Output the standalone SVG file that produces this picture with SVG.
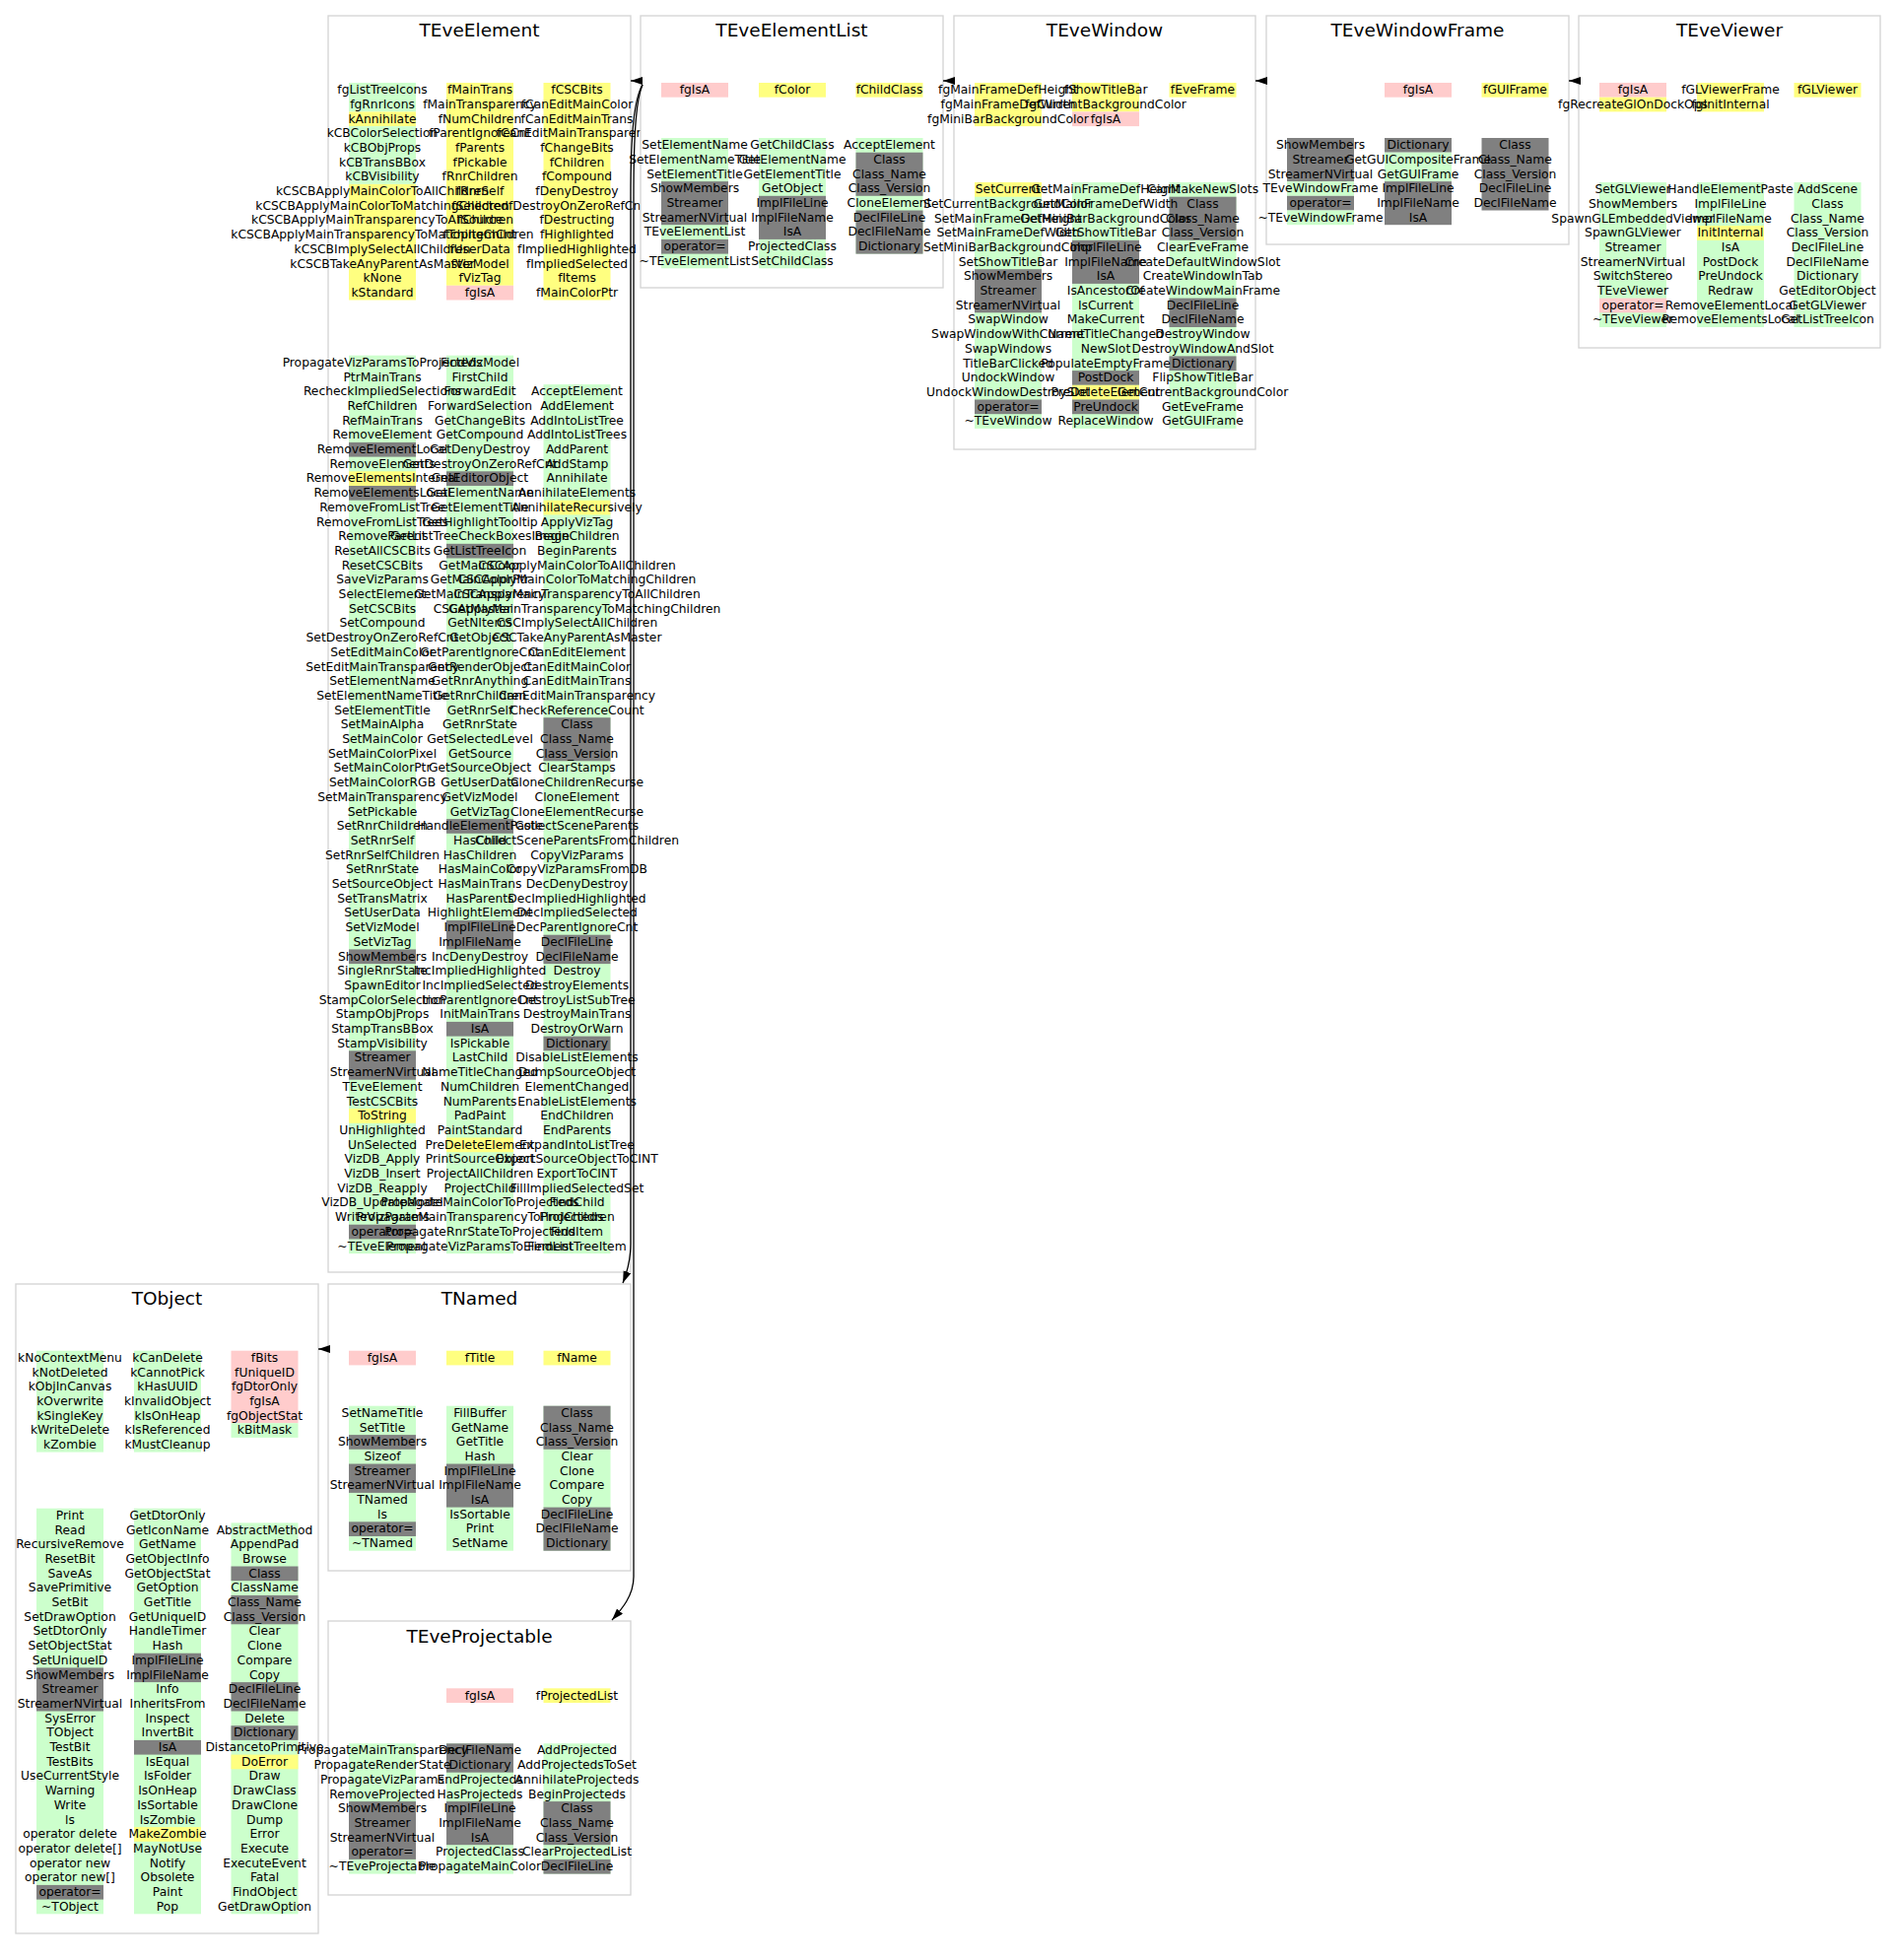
<svg xmlns="http://www.w3.org/2000/svg" width="1925" height="1989" viewBox="0 0 1925 1989">
<style>
.b{fill:#fff;stroke:#d3d3d3;stroke-width:1.3}
.t{font-family:"DejaVu Sans",sans-serif;font-size:18.5px;text-anchor:middle;fill:#000}
.m{font-family:"DejaVu Sans",sans-serif;font-size:12.3px;text-anchor:middle;fill:#000}
.g{fill:#ccffcc}.y{fill:#ffff80}.p{fill:#ffcccc}.d{fill:#808080}
.e{fill:none;stroke:#000;stroke-width:1.3}
</style>
<defs>
<marker id="ah" markerUnits="userSpaceOnUse" markerWidth="13" markerHeight="9" refX="12" refY="4" orient="auto"><path d="M0,0 L12,4 L0,8 Z" fill="#000"/></marker>
</defs>
<rect width="1925" height="1989" fill="#fff"/>

<g id="TEveElement">
<rect class="b" x="333" y="16" width="307" height="1275"/>
<text class="t" x="486.5" y="37">TEveElement</text>
<g transform="translate(388,84)"><rect x="-34" y="0" width="68" height="29.4" class="g"/><rect x="-34" y="29.4" width="68" height="14.7" class="y"/><rect x="-34" y="44.1" width="68" height="58.8" class="g"/><rect x="-34" y="102.9" width="68" height="117.6" class="y"/></g>
<g transform="translate(487,84)"><rect x="-34" y="0" width="68" height="205.8" class="y"/><rect x="-34" y="205.8" width="68" height="14.7" class="p"/></g>
<g transform="translate(585.5,84)"><rect x="-34" y="0" width="68" height="220.5" class="y"/></g>
<g transform="translate(388,360.7)"><rect x="-34" y="0" width="68" height="911.4" class="g"/><rect x="-34" y="88.2" width="68" height="14.7" class="d"/><rect x="-34" y="117.6" width="68" height="14.7" class="y"/><rect x="-34" y="132.3" width="68" height="14.7" class="d"/><rect x="-34" y="602.7" width="68" height="14.7" class="d"/><rect x="-34" y="705.6" width="68" height="29.4" class="d"/><rect x="-34" y="764.4" width="68" height="14.7" class="y"/><rect x="-34" y="882" width="68" height="14.7" class="d"/></g>
<g transform="translate(487,360.7)"><rect x="-34" y="0" width="68" height="911.4" class="g"/><rect x="-34" y="117.6" width="68" height="14.7" class="d"/><rect x="-34" y="191.1" width="68" height="14.7" class="d"/><rect x="-34" y="470.4" width="68" height="14.7" class="d"/><rect x="-34" y="573.3" width="68" height="29.4" class="d"/><rect x="-34" y="676.2" width="68" height="14.7" class="d"/><rect x="-34" y="793.8" width="68" height="14.7" class="y"/></g>
<g transform="translate(585.5,390.1)"><rect x="-34" y="0" width="68" height="882" class="g"/><rect x="-34" y="117.6" width="68" height="14.7" class="y"/><rect x="-34" y="338.1" width="68" height="44.1" class="d"/><rect x="-34" y="558.6" width="68" height="29.4" class="d"/><rect x="-34" y="661.5" width="68" height="14.7" class="d"/></g>
<text class="m" transform="translate(388,84)"><tspan x="0" y="11.2">fgListTreeIcons</tspan><tspan x="0" dy="14.7">fgRnrIcons</tspan><tspan x="0" dy="14.7">kAnnihilate</tspan><tspan x="0" dy="14.7">kCBColorSelection</tspan><tspan x="0" dy="14.7">kCBObjProps</tspan><tspan x="0" dy="14.7">kCBTransBBox</tspan><tspan x="0" dy="14.7">kCBVisibility</tspan><tspan x="0" dy="14.7">kCSCBApplyMainColorToAllChildren</tspan><tspan x="0" dy="14.7">kCSCBApplyMainColorToMatchingChildren</tspan><tspan x="0" dy="14.7">kCSCBApplyMainTransparencyToAllChildren</tspan><tspan x="0" dy="14.7">kCSCBApplyMainTransparencyToMatchingChildren</tspan><tspan x="0" dy="14.7">kCSCBImplySelectAllChildren</tspan><tspan x="0" dy="14.7">kCSCBTakeAnyParentAsMaster</tspan><tspan x="0" dy="14.7">kNone</tspan><tspan x="0" dy="14.7">kStandard</tspan></text>
<text class="m" transform="translate(487,84)"><tspan x="0" y="11.2">fMainTrans</tspan><tspan x="0" dy="14.7">fMainTransparency</tspan><tspan x="0" dy="14.7">fNumChildren</tspan><tspan x="0" dy="14.7">fParentIgnoreCnt</tspan><tspan x="0" dy="14.7">fParents</tspan><tspan x="0" dy="14.7">fPickable</tspan><tspan x="0" dy="14.7">fRnrChildren</tspan><tspan x="0" dy="14.7">fRnrSelf</tspan><tspan x="0" dy="14.7">fSelected</tspan><tspan x="0" dy="14.7">fSource</tspan><tspan x="0" dy="14.7">fTopItemCnt</tspan><tspan x="0" dy="14.7">fUserData</tspan><tspan x="0" dy="14.7">fVizModel</tspan><tspan x="0" dy="14.7">fVizTag</tspan><tspan x="0" dy="14.7">fgIsA</tspan></text>
<text class="m" transform="translate(585.5,84)"><tspan x="0" y="11.2">fCSCBits</tspan><tspan x="0" dy="14.7">fCanEditMainColor</tspan><tspan x="0" dy="14.7">fCanEditMainTrans</tspan><tspan x="0" dy="14.7">fCanEditMainTransparency</tspan><tspan x="0" dy="14.7">fChangeBits</tspan><tspan x="0" dy="14.7">fChildren</tspan><tspan x="0" dy="14.7">fCompound</tspan><tspan x="0" dy="14.7">fDenyDestroy</tspan><tspan x="0" dy="14.7">fDestroyOnZeroRefCnt</tspan><tspan x="0" dy="14.7">fDestructing</tspan><tspan x="0" dy="14.7">fHighlighted</tspan><tspan x="0" dy="14.7">fImpliedHighlighted</tspan><tspan x="0" dy="14.7">fImpliedSelected</tspan><tspan x="0" dy="14.7">fItems</tspan><tspan x="0" dy="14.7">fMainColorPtr</tspan></text>
<text class="m" transform="translate(388,360.7)"><tspan x="0" y="11.2">PropagateVizParamsToProjecteds</tspan><tspan x="0" dy="14.7">PtrMainTrans</tspan><tspan x="0" dy="14.7">RecheckImpliedSelections</tspan><tspan x="0" dy="14.7">RefChildren</tspan><tspan x="0" dy="14.7">RefMainTrans</tspan><tspan x="0" dy="14.7">RemoveElement</tspan><tspan x="0" dy="14.7">RemoveElementLocal</tspan><tspan x="0" dy="14.7">RemoveElements</tspan><tspan x="0" dy="14.7">RemoveElementsInternal</tspan><tspan x="0" dy="14.7">RemoveElementsLocal</tspan><tspan x="0" dy="14.7">RemoveFromListTree</tspan><tspan x="0" dy="14.7">RemoveFromListTrees</tspan><tspan x="0" dy="14.7">RemoveParent</tspan><tspan x="0" dy="14.7">ResetAllCSCBits</tspan><tspan x="0" dy="14.7">ResetCSCBits</tspan><tspan x="0" dy="14.7">SaveVizParams</tspan><tspan x="0" dy="14.7">SelectElement</tspan><tspan x="0" dy="14.7">SetCSCBits</tspan><tspan x="0" dy="14.7">SetCompound</tspan><tspan x="0" dy="14.7">SetDestroyOnZeroRefCnt</tspan><tspan x="0" dy="14.7">SetEditMainColor</tspan><tspan x="0" dy="14.7">SetEditMainTransparency</tspan><tspan x="0" dy="14.7">SetElementName</tspan><tspan x="0" dy="14.7">SetElementNameTitle</tspan><tspan x="0" dy="14.7">SetElementTitle</tspan><tspan x="0" dy="14.7">SetMainAlpha</tspan><tspan x="0" dy="14.7">SetMainColor</tspan><tspan x="0" dy="14.7">SetMainColorPixel</tspan><tspan x="0" dy="14.7">SetMainColorPtr</tspan><tspan x="0" dy="14.7">SetMainColorRGB</tspan><tspan x="0" dy="14.7">SetMainTransparency</tspan><tspan x="0" dy="14.7">SetPickable</tspan><tspan x="0" dy="14.7">SetRnrChildren</tspan><tspan x="0" dy="14.7">SetRnrSelf</tspan><tspan x="0" dy="14.7">SetRnrSelfChildren</tspan><tspan x="0" dy="14.7">SetRnrState</tspan><tspan x="0" dy="14.7">SetSourceObject</tspan><tspan x="0" dy="14.7">SetTransMatrix</tspan><tspan x="0" dy="14.7">SetUserData</tspan><tspan x="0" dy="14.7">SetVizModel</tspan><tspan x="0" dy="14.7">SetVizTag</tspan><tspan x="0" dy="14.7">ShowMembers</tspan><tspan x="0" dy="14.7">SingleRnrState</tspan><tspan x="0" dy="14.7">SpawnEditor</tspan><tspan x="0" dy="14.7">StampColorSelection</tspan><tspan x="0" dy="14.7">StampObjProps</tspan><tspan x="0" dy="14.7">StampTransBBox</tspan><tspan x="0" dy="14.7">StampVisibility</tspan><tspan x="0" dy="14.7">Streamer</tspan><tspan x="0" dy="14.7">StreamerNVirtual</tspan><tspan x="0" dy="14.7">TEveElement</tspan><tspan x="0" dy="14.7">TestCSCBits</tspan><tspan x="0" dy="14.7">ToString</tspan><tspan x="0" dy="14.7">UnHighlighted</tspan><tspan x="0" dy="14.7">UnSelected</tspan><tspan x="0" dy="14.7">VizDB_Apply</tspan><tspan x="0" dy="14.7">VizDB_Insert</tspan><tspan x="0" dy="14.7">VizDB_Reapply</tspan><tspan x="0" dy="14.7">VizDB_UpdateModel</tspan><tspan x="0" dy="14.7">WriteVizParams</tspan><tspan x="0" dy="14.7">operator=</tspan><tspan x="0" dy="14.7">~TEveElement</tspan></text>
<text class="m" transform="translate(487,360.7)"><tspan x="0" y="11.2">FindVizModel</tspan><tspan x="0" dy="14.7">FirstChild</tspan><tspan x="0" dy="14.7">ForwardEdit</tspan><tspan x="0" dy="14.7">ForwardSelection</tspan><tspan x="0" dy="14.7">GetChangeBits</tspan><tspan x="0" dy="14.7">GetCompound</tspan><tspan x="0" dy="14.7">GetDenyDestroy</tspan><tspan x="0" dy="14.7">GetDestroyOnZeroRefCnt</tspan><tspan x="0" dy="14.7">GetEditorObject</tspan><tspan x="0" dy="14.7">GetElementName</tspan><tspan x="0" dy="14.7">GetElementTitle</tspan><tspan x="0" dy="14.7">GetHighlightTooltip</tspan><tspan x="0" dy="14.7">GetListTreeCheckBoxesImage</tspan><tspan x="0" dy="14.7">GetListTreeIcon</tspan><tspan x="0" dy="14.7">GetMainColor</tspan><tspan x="0" dy="14.7">GetMainColorPtr</tspan><tspan x="0" dy="14.7">GetMainTransparency</tspan><tspan x="0" dy="14.7">GetMaster</tspan><tspan x="0" dy="14.7">GetNItems</tspan><tspan x="0" dy="14.7">GetObject</tspan><tspan x="0" dy="14.7">GetParentIgnoreCnt</tspan><tspan x="0" dy="14.7">GetRenderObject</tspan><tspan x="0" dy="14.7">GetRnrAnything</tspan><tspan x="0" dy="14.7">GetRnrChildren</tspan><tspan x="0" dy="14.7">GetRnrSelf</tspan><tspan x="0" dy="14.7">GetRnrState</tspan><tspan x="0" dy="14.7">GetSelectedLevel</tspan><tspan x="0" dy="14.7">GetSource</tspan><tspan x="0" dy="14.7">GetSourceObject</tspan><tspan x="0" dy="14.7">GetUserData</tspan><tspan x="0" dy="14.7">GetVizModel</tspan><tspan x="0" dy="14.7">GetVizTag</tspan><tspan x="0" dy="14.7">HandleElementPaste</tspan><tspan x="0" dy="14.7">HasChild</tspan><tspan x="0" dy="14.7">HasChildren</tspan><tspan x="0" dy="14.7">HasMainColor</tspan><tspan x="0" dy="14.7">HasMainTrans</tspan><tspan x="0" dy="14.7">HasParents</tspan><tspan x="0" dy="14.7">HighlightElement</tspan><tspan x="0" dy="14.7">ImplFileLine</tspan><tspan x="0" dy="14.7">ImplFileName</tspan><tspan x="0" dy="14.7">IncDenyDestroy</tspan><tspan x="0" dy="14.7">IncImpliedHighlighted</tspan><tspan x="0" dy="14.7">IncImpliedSelected</tspan><tspan x="0" dy="14.7">IncParentIgnoreCnt</tspan><tspan x="0" dy="14.7">InitMainTrans</tspan><tspan x="0" dy="14.7">IsA</tspan><tspan x="0" dy="14.7">IsPickable</tspan><tspan x="0" dy="14.7">LastChild</tspan><tspan x="0" dy="14.7">NameTitleChanged</tspan><tspan x="0" dy="14.7">NumChildren</tspan><tspan x="0" dy="14.7">NumParents</tspan><tspan x="0" dy="14.7">PadPaint</tspan><tspan x="0" dy="14.7">PaintStandard</tspan><tspan x="0" dy="14.7">PreDeleteElement</tspan><tspan x="0" dy="14.7">PrintSourceObject</tspan><tspan x="0" dy="14.7">ProjectAllChildren</tspan><tspan x="0" dy="14.7">ProjectChild</tspan><tspan x="0" dy="14.7">PropagateMainColorToProjecteds</tspan><tspan x="0" dy="14.7">PropagateMainTransparencyToProjecteds</tspan><tspan x="0" dy="14.7">PropagateRnrStateToProjecteds</tspan><tspan x="0" dy="14.7">PropagateVizParamsToElement</tspan></text>
<text class="m" transform="translate(585.5,390.1)"><tspan x="0" y="11.2">AcceptElement</tspan><tspan x="0" dy="14.7">AddElement</tspan><tspan x="0" dy="14.7">AddIntoListTree</tspan><tspan x="0" dy="14.7">AddIntoListTrees</tspan><tspan x="0" dy="14.7">AddParent</tspan><tspan x="0" dy="14.7">AddStamp</tspan><tspan x="0" dy="14.7">Annihilate</tspan><tspan x="0" dy="14.7">AnnihilateElements</tspan><tspan x="0" dy="14.7">AnnihilateRecursively</tspan><tspan x="0" dy="14.7">ApplyVizTag</tspan><tspan x="0" dy="14.7">BeginChildren</tspan><tspan x="0" dy="14.7">BeginParents</tspan><tspan x="0" dy="14.7">CSCApplyMainColorToAllChildren</tspan><tspan x="0" dy="14.7">CSCApplyMainColorToMatchingChildren</tspan><tspan x="0" dy="14.7">CSCApplyMainTransparencyToAllChildren</tspan><tspan x="0" dy="14.7">CSCApplyMainTransparencyToMatchingChildren</tspan><tspan x="0" dy="14.7">CSCImplySelectAllChildren</tspan><tspan x="0" dy="14.7">CSCTakeAnyParentAsMaster</tspan><tspan x="0" dy="14.7">CanEditElement</tspan><tspan x="0" dy="14.7">CanEditMainColor</tspan><tspan x="0" dy="14.7">CanEditMainTrans</tspan><tspan x="0" dy="14.7">CanEditMainTransparency</tspan><tspan x="0" dy="14.7">CheckReferenceCount</tspan><tspan x="0" dy="14.7">Class</tspan><tspan x="0" dy="14.7">Class_Name</tspan><tspan x="0" dy="14.7">Class_Version</tspan><tspan x="0" dy="14.7">ClearStamps</tspan><tspan x="0" dy="14.7">CloneChildrenRecurse</tspan><tspan x="0" dy="14.7">CloneElement</tspan><tspan x="0" dy="14.7">CloneElementRecurse</tspan><tspan x="0" dy="14.7">CollectSceneParents</tspan><tspan x="0" dy="14.7">CollectSceneParentsFromChildren</tspan><tspan x="0" dy="14.7">CopyVizParams</tspan><tspan x="0" dy="14.7">CopyVizParamsFromDB</tspan><tspan x="0" dy="14.7">DecDenyDestroy</tspan><tspan x="0" dy="14.7">DecImpliedHighlighted</tspan><tspan x="0" dy="14.7">DecImpliedSelected</tspan><tspan x="0" dy="14.7">DecParentIgnoreCnt</tspan><tspan x="0" dy="14.7">DeclFileLine</tspan><tspan x="0" dy="14.7">DeclFileName</tspan><tspan x="0" dy="14.7">Destroy</tspan><tspan x="0" dy="14.7">DestroyElements</tspan><tspan x="0" dy="14.7">DestroyListSubTree</tspan><tspan x="0" dy="14.7">DestroyMainTrans</tspan><tspan x="0" dy="14.7">DestroyOrWarn</tspan><tspan x="0" dy="14.7">Dictionary</tspan><tspan x="0" dy="14.7">DisableListElements</tspan><tspan x="0" dy="14.7">DumpSourceObject</tspan><tspan x="0" dy="14.7">ElementChanged</tspan><tspan x="0" dy="14.7">EnableListElements</tspan><tspan x="0" dy="14.7">EndChildren</tspan><tspan x="0" dy="14.7">EndParents</tspan><tspan x="0" dy="14.7">ExpandIntoListTree</tspan><tspan x="0" dy="14.7">ExportSourceObjectToCINT</tspan><tspan x="0" dy="14.7">ExportToCINT</tspan><tspan x="0" dy="14.7">FillImpliedSelectedSet</tspan><tspan x="0" dy="14.7">FindChild</tspan><tspan x="0" dy="14.7">FindChildren</tspan><tspan x="0" dy="14.7">FindItem</tspan><tspan x="0" dy="14.7">FindListTreeItem</tspan></text>
</g>

<g id="TEveElementList">
<rect class="b" x="650" y="16" width="307" height="276"/>
<text class="t" x="803.5" y="37">TEveElementList</text>
<g transform="translate(705,84)"><rect x="-34" y="0" width="68" height="14.7" class="p"/></g>
<g transform="translate(804,84)"><rect x="-34" y="0" width="68" height="14.7" class="y"/></g>
<g transform="translate(902.5,84)"><rect x="-34" y="0" width="68" height="14.7" class="y"/></g>
<g transform="translate(705,140)"><rect x="-34" y="0" width="68" height="132.3" class="g"/><rect x="-34" y="44.1" width="68" height="44.1" class="d"/><rect x="-34" y="102.9" width="68" height="14.7" class="d"/></g>
<g transform="translate(804,140)"><rect x="-34" y="0" width="68" height="132.3" class="g"/><rect x="-34" y="58.8" width="68" height="44.1" class="d"/></g>
<g transform="translate(902.5,140)"><rect x="-34" y="0" width="68" height="117.6" class="g"/><rect x="-34" y="14.7" width="68" height="44.1" class="d"/><rect x="-34" y="73.5" width="68" height="44.1" class="d"/></g>
<text class="m" x="705" y="95.2">fgIsA</text>
<text class="m" x="804" y="95.2">fColor</text>
<text class="m" x="902.5" y="95.2">fChildClass</text>
<text class="m" transform="translate(705,140)"><tspan x="0" y="11.2">SetElementName</tspan><tspan x="0" dy="14.7">SetElementNameTitle</tspan><tspan x="0" dy="14.7">SetElementTitle</tspan><tspan x="0" dy="14.7">ShowMembers</tspan><tspan x="0" dy="14.7">Streamer</tspan><tspan x="0" dy="14.7">StreamerNVirtual</tspan><tspan x="0" dy="14.7">TEveElementList</tspan><tspan x="0" dy="14.7">operator=</tspan><tspan x="0" dy="14.7">~TEveElementList</tspan></text>
<text class="m" transform="translate(804,140)"><tspan x="0" y="11.2">GetChildClass</tspan><tspan x="0" dy="14.7">GetElementName</tspan><tspan x="0" dy="14.7">GetElementTitle</tspan><tspan x="0" dy="14.7">GetObject</tspan><tspan x="0" dy="14.7">ImplFileLine</tspan><tspan x="0" dy="14.7">ImplFileName</tspan><tspan x="0" dy="14.7">IsA</tspan><tspan x="0" dy="14.7">ProjectedClass</tspan><tspan x="0" dy="14.7">SetChildClass</tspan></text>
<text class="m" transform="translate(902.5,140)"><tspan x="0" y="11.2">AcceptElement</tspan><tspan x="0" dy="14.7">Class</tspan><tspan x="0" dy="14.7">Class_Name</tspan><tspan x="0" dy="14.7">Class_Version</tspan><tspan x="0" dy="14.7">CloneElement</tspan><tspan x="0" dy="14.7">DeclFileLine</tspan><tspan x="0" dy="14.7">DeclFileName</tspan><tspan x="0" dy="14.7">Dictionary</tspan></text>
</g>

<g id="TEveWindow">
<rect class="b" x="968" y="16" width="306" height="440"/>
<text class="t" x="1121" y="37">TEveWindow</text>
<g transform="translate(1023,84)"><rect x="-34" y="0" width="68" height="44.1" class="y"/></g>
<g transform="translate(1122,84)"><rect x="-34" y="0" width="68" height="29.4" class="y"/><rect x="-34" y="29.4" width="68" height="14.7" class="p"/></g>
<g transform="translate(1220.5,84)"><rect x="-34" y="0" width="68" height="14.7" class="y"/></g>
<g transform="translate(1023,185)"><rect x="-34" y="0" width="68" height="249.9" class="g"/><rect x="-34" y="0" width="68" height="14.7" class="y"/><rect x="-34" y="88.2" width="68" height="44.1" class="d"/><rect x="-34" y="220.5" width="68" height="14.7" class="d"/></g>
<g transform="translate(1122,185)"><rect x="-34" y="0" width="68" height="249.9" class="g"/><rect x="-34" y="58.8" width="68" height="44.1" class="d"/><rect x="-34" y="191.1" width="68" height="14.7" class="d"/><rect x="-34" y="205.8" width="68" height="14.7" class="y"/><rect x="-34" y="220.5" width="68" height="14.7" class="d"/></g>
<g transform="translate(1220.5,185)"><rect x="-34" y="0" width="68" height="249.9" class="g"/><rect x="-34" y="14.7" width="68" height="44.1" class="d"/><rect x="-34" y="117.6" width="68" height="29.4" class="d"/><rect x="-34" y="176.4" width="68" height="14.7" class="d"/></g>
<text class="m" transform="translate(1023,84)"><tspan x="0" y="11.2">fgMainFrameDefHeight</tspan><tspan x="0" dy="14.7">fgMainFrameDefWidth</tspan><tspan x="0" dy="14.7">fgMiniBarBackgroundColor</tspan></text>
<text class="m" transform="translate(1122,84)"><tspan x="0" y="11.2">fShowTitleBar</tspan><tspan x="0" dy="14.7">fgCurrentBackgroundColor</tspan><tspan x="0" dy="14.7">fgIsA</tspan></text>
<text class="m" x="1220.5" y="95.2">fEveFrame</text>
<text class="m" transform="translate(1023,185)"><tspan x="0" y="11.2">SetCurrent</tspan><tspan x="0" dy="14.7">SetCurrentBackgroundColor</tspan><tspan x="0" dy="14.7">SetMainFrameDefHeight</tspan><tspan x="0" dy="14.7">SetMainFrameDefWidth</tspan><tspan x="0" dy="14.7">SetMiniBarBackgroundColor</tspan><tspan x="0" dy="14.7">SetShowTitleBar</tspan><tspan x="0" dy="14.7">ShowMembers</tspan><tspan x="0" dy="14.7">Streamer</tspan><tspan x="0" dy="14.7">StreamerNVirtual</tspan><tspan x="0" dy="14.7">SwapWindow</tspan><tspan x="0" dy="14.7">SwapWindowWithCurrent</tspan><tspan x="0" dy="14.7">SwapWindows</tspan><tspan x="0" dy="14.7">TitleBarClicked</tspan><tspan x="0" dy="14.7">UndockWindow</tspan><tspan x="0" dy="14.7">UndockWindowDestroySlot</tspan><tspan x="0" dy="14.7">operator=</tspan><tspan x="0" dy="14.7">~TEveWindow</tspan></text>
<text class="m" transform="translate(1122,185)"><tspan x="0" y="11.2">GetMainFrameDefHeight</tspan><tspan x="0" dy="14.7">GetMainFrameDefWidth</tspan><tspan x="0" dy="14.7">GetMiniBarBackgroundColor</tspan><tspan x="0" dy="14.7">GetShowTitleBar</tspan><tspan x="0" dy="14.7">ImplFileLine</tspan><tspan x="0" dy="14.7">ImplFileName</tspan><tspan x="0" dy="14.7">IsA</tspan><tspan x="0" dy="14.7">IsAncestorOf</tspan><tspan x="0" dy="14.7">IsCurrent</tspan><tspan x="0" dy="14.7">MakeCurrent</tspan><tspan x="0" dy="14.7">NameTitleChanged</tspan><tspan x="0" dy="14.7">NewSlot</tspan><tspan x="0" dy="14.7">PopulateEmptyFrame</tspan><tspan x="0" dy="14.7">PostDock</tspan><tspan x="0" dy="14.7">PreDeleteElement</tspan><tspan x="0" dy="14.7">PreUndock</tspan><tspan x="0" dy="14.7">ReplaceWindow</tspan></text>
<text class="m" transform="translate(1220.5,185)"><tspan x="0" y="11.2">CanMakeNewSlots</tspan><tspan x="0" dy="14.7">Class</tspan><tspan x="0" dy="14.7">Class_Name</tspan><tspan x="0" dy="14.7">Class_Version</tspan><tspan x="0" dy="14.7">ClearEveFrame</tspan><tspan x="0" dy="14.7">CreateDefaultWindowSlot</tspan><tspan x="0" dy="14.7">CreateWindowInTab</tspan><tspan x="0" dy="14.7">CreateWindowMainFrame</tspan><tspan x="0" dy="14.7">DeclFileLine</tspan><tspan x="0" dy="14.7">DeclFileName</tspan><tspan x="0" dy="14.7">DestroyWindow</tspan><tspan x="0" dy="14.7">DestroyWindowAndSlot</tspan><tspan x="0" dy="14.7">Dictionary</tspan><tspan x="0" dy="14.7">FlipShowTitleBar</tspan><tspan x="0" dy="14.7">GetCurrentBackgroundColor</tspan><tspan x="0" dy="14.7">GetEveFrame</tspan><tspan x="0" dy="14.7">GetGUIFrame</tspan></text>
</g>

<g id="TEveWindowFrame">
<rect class="b" x="1285" y="16" width="307" height="232"/>
<text class="t" x="1438.5" y="37">TEveWindowFrame</text>
<g transform="translate(1439,84)"><rect x="-34" y="0" width="68" height="14.7" class="p"/></g>
<g transform="translate(1537.5,84)"><rect x="-34" y="0" width="68" height="14.7" class="y"/></g>
<g transform="translate(1340,140)"><rect x="-34" y="0" width="68" height="44.1" class="d"/><rect x="-34" y="44.1" width="68" height="14.7" class="g"/><rect x="-34" y="58.8" width="68" height="14.7" class="d"/><rect x="-34" y="73.5" width="68" height="14.7" class="g"/></g>
<g transform="translate(1439,140)"><rect x="-34" y="0" width="68" height="14.7" class="d"/><rect x="-34" y="14.7" width="68" height="29.4" class="g"/><rect x="-34" y="44.1" width="68" height="44.1" class="d"/></g>
<g transform="translate(1537.5,140)"><rect x="-34" y="0" width="68" height="73.5" class="d"/></g>
<text class="m" x="1439" y="95.2">fgIsA</text>
<text class="m" x="1537.5" y="95.2">fGUIFrame</text>
<text class="m" transform="translate(1340,140)"><tspan x="0" y="11.2">ShowMembers</tspan><tspan x="0" dy="14.7">Streamer</tspan><tspan x="0" dy="14.7">StreamerNVirtual</tspan><tspan x="0" dy="14.7">TEveWindowFrame</tspan><tspan x="0" dy="14.7">operator=</tspan><tspan x="0" dy="14.7">~TEveWindowFrame</tspan></text>
<text class="m" transform="translate(1439,140)"><tspan x="0" y="11.2">Dictionary</tspan><tspan x="0" dy="14.7">GetGUICompositeFrame</tspan><tspan x="0" dy="14.7">GetGUIFrame</tspan><tspan x="0" dy="14.7">ImplFileLine</tspan><tspan x="0" dy="14.7">ImplFileName</tspan><tspan x="0" dy="14.7">IsA</tspan></text>
<text class="m" transform="translate(1537.5,140)"><tspan x="0" y="11.2">Class</tspan><tspan x="0" dy="14.7">Class_Name</tspan><tspan x="0" dy="14.7">Class_Version</tspan><tspan x="0" dy="14.7">DeclFileLine</tspan><tspan x="0" dy="14.7">DeclFileName</tspan></text>
</g>

<g id="TEveViewer">
<rect class="b" x="1602" y="16" width="306" height="337"/>
<text class="t" x="1755" y="37">TEveViewer</text>
<g transform="translate(1657,84)"><rect x="-34" y="0" width="68" height="14.7" class="p"/><rect x="-34" y="14.7" width="68" height="14.7" class="y"/></g>
<g transform="translate(1756,84)"><rect x="-34" y="0" width="68" height="29.4" class="y"/></g>
<g transform="translate(1854.5,84)"><rect x="-34" y="0" width="68" height="14.7" class="y"/></g>
<g transform="translate(1657,185)"><rect x="-34" y="0" width="68" height="147" class="g"/><rect x="-34" y="117.6" width="68" height="14.7" class="p"/></g>
<g transform="translate(1756,185)"><rect x="-34" y="0" width="68" height="147" class="g"/><rect x="-34" y="44.1" width="68" height="14.7" class="y"/></g>
<g transform="translate(1854.5,185)"><rect x="-34" y="0" width="68" height="147" class="g"/></g>
<text class="m" transform="translate(1657,84)"><tspan x="0" y="11.2">fgIsA</tspan><tspan x="0" dy="14.7">fgRecreateGlOnDockOps</tspan></text>
<text class="m" transform="translate(1756,84)"><tspan x="0" y="11.2">fGLViewerFrame</tspan><tspan x="0" dy="14.7">fgInitInternal</tspan></text>
<text class="m" x="1854.5" y="95.2">fGLViewer</text>
<text class="m" transform="translate(1657,185)"><tspan x="0" y="11.2">SetGLViewer</tspan><tspan x="0" dy="14.7">ShowMembers</tspan><tspan x="0" dy="14.7">SpawnGLEmbeddedViewer</tspan><tspan x="0" dy="14.7">SpawnGLViewer</tspan><tspan x="0" dy="14.7">Streamer</tspan><tspan x="0" dy="14.7">StreamerNVirtual</tspan><tspan x="0" dy="14.7">SwitchStereo</tspan><tspan x="0" dy="14.7">TEveViewer</tspan><tspan x="0" dy="14.7">operator=</tspan><tspan x="0" dy="14.7">~TEveViewer</tspan></text>
<text class="m" transform="translate(1756,185)"><tspan x="0" y="11.2">HandleElementPaste</tspan><tspan x="0" dy="14.7">ImplFileLine</tspan><tspan x="0" dy="14.7">ImplFileName</tspan><tspan x="0" dy="14.7">InitInternal</tspan><tspan x="0" dy="14.7">IsA</tspan><tspan x="0" dy="14.7">PostDock</tspan><tspan x="0" dy="14.7">PreUndock</tspan><tspan x="0" dy="14.7">Redraw</tspan><tspan x="0" dy="14.7">RemoveElementLocal</tspan><tspan x="0" dy="14.7">RemoveElementsLocal</tspan></text>
<text class="m" transform="translate(1854.5,185)"><tspan x="0" y="11.2">AddScene</tspan><tspan x="0" dy="14.7">Class</tspan><tspan x="0" dy="14.7">Class_Name</tspan><tspan x="0" dy="14.7">Class_Version</tspan><tspan x="0" dy="14.7">DeclFileLine</tspan><tspan x="0" dy="14.7">DeclFileName</tspan><tspan x="0" dy="14.7">Dictionary</tspan><tspan x="0" dy="14.7">GetEditorObject</tspan><tspan x="0" dy="14.7">GetGLViewer</tspan><tspan x="0" dy="14.7">GetListTreeIcon</tspan></text>
</g>

<g id="TObject">
<rect class="b" x="16" y="1303" width="307" height="659"/>
<text class="t" x="169.5" y="1324">TObject</text>
<g transform="translate(71,1370.7)"><rect x="-34" y="0" width="68" height="102.9" class="g"/></g>
<g transform="translate(170,1370.7)"><rect x="-34" y="0" width="68" height="102.9" class="g"/></g>
<g transform="translate(268.5,1370.7)"><rect x="-34" y="0" width="68" height="73.5" class="p"/><rect x="-34" y="73.5" width="68" height="14.7" class="g"/></g>
<g transform="translate(71,1530.7)"><rect x="-34" y="0" width="68" height="411.6" class="g"/><rect x="-34" y="161.7" width="68" height="44.1" class="d"/><rect x="-34" y="382.2" width="68" height="14.7" class="d"/></g>
<g transform="translate(170,1530.7)"><rect x="-34" y="0" width="68" height="411.6" class="g"/><rect x="-34" y="147" width="68" height="29.4" class="d"/><rect x="-34" y="235.2" width="68" height="14.7" class="d"/><rect x="-34" y="323.4" width="68" height="14.7" class="y"/></g>
<g transform="translate(268.5,1545.4)"><rect x="-34" y="0" width="68" height="396.9" class="g"/><rect x="-34" y="44.1" width="68" height="14.7" class="d"/><rect x="-34" y="73.5" width="68" height="29.4" class="d"/><rect x="-34" y="161.7" width="68" height="29.4" class="d"/><rect x="-34" y="205.8" width="68" height="14.7" class="d"/><rect x="-34" y="235.2" width="68" height="14.7" class="y"/></g>
<text class="m" transform="translate(71,1370.7)"><tspan x="0" y="11.2">kNoContextMenu</tspan><tspan x="0" dy="14.7">kNotDeleted</tspan><tspan x="0" dy="14.7">kObjInCanvas</tspan><tspan x="0" dy="14.7">kOverwrite</tspan><tspan x="0" dy="14.7">kSingleKey</tspan><tspan x="0" dy="14.7">kWriteDelete</tspan><tspan x="0" dy="14.7">kZombie</tspan></text>
<text class="m" transform="translate(170,1370.7)"><tspan x="0" y="11.2">kCanDelete</tspan><tspan x="0" dy="14.7">kCannotPick</tspan><tspan x="0" dy="14.7">kHasUUID</tspan><tspan x="0" dy="14.7">kInvalidObject</tspan><tspan x="0" dy="14.7">kIsOnHeap</tspan><tspan x="0" dy="14.7">kIsReferenced</tspan><tspan x="0" dy="14.7">kMustCleanup</tspan></text>
<text class="m" transform="translate(268.5,1370.7)"><tspan x="0" y="11.2">fBits</tspan><tspan x="0" dy="14.7">fUniqueID</tspan><tspan x="0" dy="14.7">fgDtorOnly</tspan><tspan x="0" dy="14.7">fgIsA</tspan><tspan x="0" dy="14.7">fgObjectStat</tspan><tspan x="0" dy="14.7">kBitMask</tspan></text>
<text class="m" transform="translate(71,1530.7)"><tspan x="0" y="11.2">Print</tspan><tspan x="0" dy="14.7">Read</tspan><tspan x="0" dy="14.7">RecursiveRemove</tspan><tspan x="0" dy="14.7">ResetBit</tspan><tspan x="0" dy="14.7">SaveAs</tspan><tspan x="0" dy="14.7">SavePrimitive</tspan><tspan x="0" dy="14.7">SetBit</tspan><tspan x="0" dy="14.7">SetDrawOption</tspan><tspan x="0" dy="14.7">SetDtorOnly</tspan><tspan x="0" dy="14.7">SetObjectStat</tspan><tspan x="0" dy="14.7">SetUniqueID</tspan><tspan x="0" dy="14.7">ShowMembers</tspan><tspan x="0" dy="14.7">Streamer</tspan><tspan x="0" dy="14.7">StreamerNVirtual</tspan><tspan x="0" dy="14.7">SysError</tspan><tspan x="0" dy="14.7">TObject</tspan><tspan x="0" dy="14.7">TestBit</tspan><tspan x="0" dy="14.7">TestBits</tspan><tspan x="0" dy="14.7">UseCurrentStyle</tspan><tspan x="0" dy="14.7">Warning</tspan><tspan x="0" dy="14.7">Write</tspan><tspan x="0" dy="14.7">ls</tspan><tspan x="0" dy="14.7">operator delete</tspan><tspan x="0" dy="14.7">operator delete[]</tspan><tspan x="0" dy="14.7">operator new</tspan><tspan x="0" dy="14.7">operator new[]</tspan><tspan x="0" dy="14.7">operator=</tspan><tspan x="0" dy="14.7">~TObject</tspan></text>
<text class="m" transform="translate(170,1530.7)"><tspan x="0" y="11.2">GetDtorOnly</tspan><tspan x="0" dy="14.7">GetIconName</tspan><tspan x="0" dy="14.7">GetName</tspan><tspan x="0" dy="14.7">GetObjectInfo</tspan><tspan x="0" dy="14.7">GetObjectStat</tspan><tspan x="0" dy="14.7">GetOption</tspan><tspan x="0" dy="14.7">GetTitle</tspan><tspan x="0" dy="14.7">GetUniqueID</tspan><tspan x="0" dy="14.7">HandleTimer</tspan><tspan x="0" dy="14.7">Hash</tspan><tspan x="0" dy="14.7">ImplFileLine</tspan><tspan x="0" dy="14.7">ImplFileName</tspan><tspan x="0" dy="14.7">Info</tspan><tspan x="0" dy="14.7">InheritsFrom</tspan><tspan x="0" dy="14.7">Inspect</tspan><tspan x="0" dy="14.7">InvertBit</tspan><tspan x="0" dy="14.7">IsA</tspan><tspan x="0" dy="14.7">IsEqual</tspan><tspan x="0" dy="14.7">IsFolder</tspan><tspan x="0" dy="14.7">IsOnHeap</tspan><tspan x="0" dy="14.7">IsSortable</tspan><tspan x="0" dy="14.7">IsZombie</tspan><tspan x="0" dy="14.7">MakeZombie</tspan><tspan x="0" dy="14.7">MayNotUse</tspan><tspan x="0" dy="14.7">Notify</tspan><tspan x="0" dy="14.7">Obsolete</tspan><tspan x="0" dy="14.7">Paint</tspan><tspan x="0" dy="14.7">Pop</tspan></text>
<text class="m" transform="translate(268.5,1545.4)"><tspan x="0" y="11.2">AbstractMethod</tspan><tspan x="0" dy="14.7">AppendPad</tspan><tspan x="0" dy="14.7">Browse</tspan><tspan x="0" dy="14.7">Class</tspan><tspan x="0" dy="14.7">ClassName</tspan><tspan x="0" dy="14.7">Class_Name</tspan><tspan x="0" dy="14.7">Class_Version</tspan><tspan x="0" dy="14.7">Clear</tspan><tspan x="0" dy="14.7">Clone</tspan><tspan x="0" dy="14.7">Compare</tspan><tspan x="0" dy="14.7">Copy</tspan><tspan x="0" dy="14.7">DeclFileLine</tspan><tspan x="0" dy="14.7">DeclFileName</tspan><tspan x="0" dy="14.7">Delete</tspan><tspan x="0" dy="14.7">Dictionary</tspan><tspan x="0" dy="14.7">DistancetoPrimitive</tspan><tspan x="0" dy="14.7">DoError</tspan><tspan x="0" dy="14.7">Draw</tspan><tspan x="0" dy="14.7">DrawClass</tspan><tspan x="0" dy="14.7">DrawClone</tspan><tspan x="0" dy="14.7">Dump</tspan><tspan x="0" dy="14.7">Error</tspan><tspan x="0" dy="14.7">Execute</tspan><tspan x="0" dy="14.7">ExecuteEvent</tspan><tspan x="0" dy="14.7">Fatal</tspan><tspan x="0" dy="14.7">FindObject</tspan><tspan x="0" dy="14.7">GetDrawOption</tspan></text>
</g>

<g id="TNamed">
<rect class="b" x="333" y="1303" width="307" height="291"/>
<text class="t" x="486.5" y="1324">TNamed</text>
<g transform="translate(388,1370.7)"><rect x="-34" y="0" width="68" height="14.7" class="p"/></g>
<g transform="translate(487,1370.7)"><rect x="-34" y="0" width="68" height="14.7" class="y"/></g>
<g transform="translate(585.5,1370.7)"><rect x="-34" y="0" width="68" height="14.7" class="y"/></g>
<g transform="translate(388,1426.7)"><rect x="-34" y="0" width="68" height="147" class="g"/><rect x="-34" y="29.4" width="68" height="14.7" class="d"/><rect x="-34" y="58.8" width="68" height="29.4" class="d"/><rect x="-34" y="117.6" width="68" height="14.7" class="d"/></g>
<g transform="translate(487,1426.7)"><rect x="-34" y="0" width="68" height="147" class="g"/><rect x="-34" y="58.8" width="68" height="44.1" class="d"/></g>
<g transform="translate(585.5,1426.7)"><rect x="-34" y="0" width="68" height="147" class="g"/><rect x="-34" y="0" width="68" height="44.1" class="d"/><rect x="-34" y="102.9" width="68" height="44.1" class="d"/></g>
<text class="m" x="388" y="1381.9">fgIsA</text>
<text class="m" x="487" y="1381.9">fTitle</text>
<text class="m" x="585.5" y="1381.9">fName</text>
<text class="m" transform="translate(388,1426.7)"><tspan x="0" y="11.2">SetNameTitle</tspan><tspan x="0" dy="14.7">SetTitle</tspan><tspan x="0" dy="14.7">ShowMembers</tspan><tspan x="0" dy="14.7">Sizeof</tspan><tspan x="0" dy="14.7">Streamer</tspan><tspan x="0" dy="14.7">StreamerNVirtual</tspan><tspan x="0" dy="14.7">TNamed</tspan><tspan x="0" dy="14.7">ls</tspan><tspan x="0" dy="14.7">operator=</tspan><tspan x="0" dy="14.7">~TNamed</tspan></text>
<text class="m" transform="translate(487,1426.7)"><tspan x="0" y="11.2">FillBuffer</tspan><tspan x="0" dy="14.7">GetName</tspan><tspan x="0" dy="14.7">GetTitle</tspan><tspan x="0" dy="14.7">Hash</tspan><tspan x="0" dy="14.7">ImplFileLine</tspan><tspan x="0" dy="14.7">ImplFileName</tspan><tspan x="0" dy="14.7">IsA</tspan><tspan x="0" dy="14.7">IsSortable</tspan><tspan x="0" dy="14.7">Print</tspan><tspan x="0" dy="14.7">SetName</tspan></text>
<text class="m" transform="translate(585.5,1426.7)"><tspan x="0" y="11.2">Class</tspan><tspan x="0" dy="14.7">Class_Name</tspan><tspan x="0" dy="14.7">Class_Version</tspan><tspan x="0" dy="14.7">Clear</tspan><tspan x="0" dy="14.7">Clone</tspan><tspan x="0" dy="14.7">Compare</tspan><tspan x="0" dy="14.7">Copy</tspan><tspan x="0" dy="14.7">DeclFileLine</tspan><tspan x="0" dy="14.7">DeclFileName</tspan><tspan x="0" dy="14.7">Dictionary</tspan></text>
</g>

<g id="TEveProjectable">
<rect class="b" x="333" y="1645" width="307" height="278"/>
<text class="t" x="486.5" y="1666.5">TEveProjectable</text>
<g transform="translate(487,1713.3)"><rect x="-34" y="0" width="68" height="14.7" class="p"/></g>
<g transform="translate(585.5,1713.3)"><rect x="-34" y="0" width="68" height="14.7" class="y"/></g>
<g transform="translate(388,1769.3)"><rect x="-34" y="0" width="68" height="132.3" class="g"/><rect x="-34" y="58.8" width="68" height="58.8" class="d"/></g>
<g transform="translate(487,1769.3)"><rect x="-34" y="0" width="68" height="132.3" class="g"/><rect x="-34" y="0" width="68" height="29.4" class="d"/><rect x="-34" y="58.8" width="68" height="44.1" class="d"/></g>
<g transform="translate(585.5,1769.3)"><rect x="-34" y="0" width="68" height="132.3" class="g"/><rect x="-34" y="58.8" width="68" height="44.1" class="d"/><rect x="-34" y="117.6" width="68" height="14.7" class="d"/></g>
<text class="m" x="487" y="1724.5">fgIsA</text>
<text class="m" x="585.5" y="1724.5">fProjectedList</text>
<text class="m" transform="translate(388,1769.3)"><tspan x="0" y="11.2">PropagateMainTransparency</tspan><tspan x="0" dy="14.7">PropagateRenderState</tspan><tspan x="0" dy="14.7">PropagateVizParams</tspan><tspan x="0" dy="14.7">RemoveProjected</tspan><tspan x="0" dy="14.7">ShowMembers</tspan><tspan x="0" dy="14.7">Streamer</tspan><tspan x="0" dy="14.7">StreamerNVirtual</tspan><tspan x="0" dy="14.7">operator=</tspan><tspan x="0" dy="14.7">~TEveProjectable</tspan></text>
<text class="m" transform="translate(487,1769.3)"><tspan x="0" y="11.2">DeclFileName</tspan><tspan x="0" dy="14.7">Dictionary</tspan><tspan x="0" dy="14.7">EndProjecteds</tspan><tspan x="0" dy="14.7">HasProjecteds</tspan><tspan x="0" dy="14.7">ImplFileLine</tspan><tspan x="0" dy="14.7">ImplFileName</tspan><tspan x="0" dy="14.7">IsA</tspan><tspan x="0" dy="14.7">ProjectedClass</tspan><tspan x="0" dy="14.7">PropagateMainColor</tspan></text>
<text class="m" transform="translate(585.5,1769.3)"><tspan x="0" y="11.2">AddProjected</tspan><tspan x="0" dy="14.7">AddProjectedsToSet</tspan><tspan x="0" dy="14.7">AnnihilateProjecteds</tspan><tspan x="0" dy="14.7">BeginProjecteds</tspan><tspan x="0" dy="14.7">Class</tspan><tspan x="0" dy="14.7">Class_Name</tspan><tspan x="0" dy="14.7">Class_Version</tspan><tspan x="0" dy="14.7">ClearProjectedList</tspan><tspan x="0" dy="14.7">DeclFileLine</tspan></text>
</g>

<g id="connectors">
<path class="e" marker-end="url(#ah)" d="M652,82 L640,82"/>
<path class="e" marker-end="url(#ah)" d="M968,82 L957,82"/>
<path class="e" marker-end="url(#ah)" d="M1285,82 L1274,82"/>
<path class="e" marker-end="url(#ah)" d="M1602,82 L1592,82"/>
<path class="e" marker-end="url(#ah)" d="M333,1369 L323,1369"/>
<path class="e" marker-end="url(#ah)" d="M652,86 C644,100 640,130 640,200 L640,1262 C640,1280 636,1292 632,1302"/>
<path class="e" marker-end="url(#ah)" d="M652,86 C646,100 643,130 643,200 L643,1600 C643,1620 630,1634 621,1644"/>
</g>
</svg>
